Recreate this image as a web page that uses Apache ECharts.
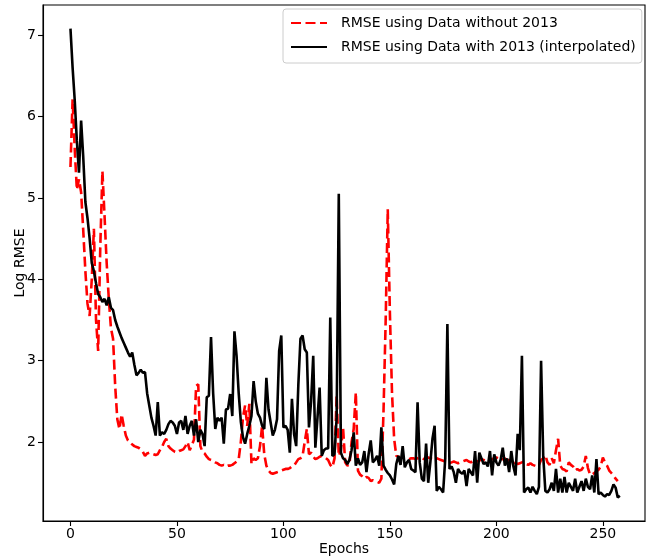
<!DOCTYPE html>
<html>
<head>
<meta charset="utf-8">
<script src="https://cdn.jsdelivr.net/npm/echarts@6/dist/echarts.min.js"></script>
<style>
  html, body { margin: 0; padding: 0; background: #fff; }
  #chart { width: 647px; height: 558px; }
</style>
</head>
<body>
<div id="chart"></div>
<script>
// Log RMSE per epoch (index = epoch)
const rmseWithout2013 = [
  5.38, 6.21, 5.6, 5.1, 5.23, 5.07, 4.6, 4.1, 3.7, 3.55,
  4.0, 4.62, 3.5, 3.12, 4.4, 5.33, 4.78, 4.2, 3.76, 3.4,
  3.27, 2.69, 2.28, 2.16, 2.34, 2.2, 2.08, 2.02, 2.0, 1.97,
  1.95, 1.94, 1.93, 1.91, 1.88, 1.83, 1.86, 1.87, 1.86, 1.85,
  1.84, 1.85, 1.9, 1.94, 2.0, 2.04, 1.95, 1.92, 1.9, 1.88,
  1.87, 1.89, 1.9, 1.91, 1.95, 2.0, 1.9, 1.96, 2.03, 2.69,
  2.71, 1.95, 1.88, 1.86, 1.82, 1.79, 1.78, 1.77, 1.75, 1.74,
  1.72, 1.71, 1.72, 1.7, 1.71, 1.71, 1.72, 1.74, 1.76, 1.79,
  2.0, 2.3, 2.45, 2.2, 2.47, 1.73, 1.8, 1.78, 1.8, 1.95,
  2.2, 1.85, 1.71, 1.65, 1.62, 1.61, 1.62, 1.63, 1.64, 1.65,
  1.66, 1.67, 1.67, 1.68, 1.7, 1.71, 1.75, 1.79, 1.8, 1.83,
  2.0, 2.16, 1.85, 1.87, 1.82, 1.79, 1.8, 1.82, 1.83, 1.82,
  1.8, 1.78, 1.72, 1.69, 1.8, 2.57, 1.83, 1.9, 2.18, 1.75,
  1.71, 1.72, 2.0, 2.16, 2.61, 1.65, 1.6, 1.58, 1.55, 1.57,
  1.56, 1.52, 1.53, 1.52, 1.51, 1.5, 1.55, 2.37, 3.47, 4.86,
  3.59, 2.6, 2.04, 1.83, 1.82, 1.8, 1.81, 1.8, 1.79, 1.79,
  1.8, 1.8, 1.79, 1.8, 1.81, 1.8, 1.79, 1.8, 1.81, 1.8,
  1.79, 1.8, 1.8, 1.79, 1.78, 1.77, 1.76, 1.75, 1.74, 1.75,
  1.76, 1.75, 1.74, 1.75, 1.76, 1.77, 1.78, 1.76, 1.75, 1.77,
  1.78, 1.76, 1.77, 1.79, 1.78, 1.77, 1.78, 1.77, 1.79, 1.8,
  1.81, 1.8, 1.78, 1.79, 1.8, 1.77, 1.78, 1.76, 1.75, 1.74,
  1.73, 1.74, 1.75, 1.76, 1.73, 1.72, 1.74, 1.72, 1.71, 1.7,
  1.72, 1.78, 1.8, 1.84, 1.75, 1.72, 1.8, 1.74, 1.9, 2.04,
  1.71, 1.67, 1.66, 1.64, 1.75, 1.72, 1.7, 1.65, 1.67, 1.65,
  1.66, 1.7, 1.83, 1.68, 1.6, 1.6, 1.62, 1.64, 1.66, 1.7,
  1.81, 1.75, 1.71, 1.65, 1.62, 1.59, 1.55, 1.52
];

const rmseWith2013 = [
  7.08, 6.6, 6.2, 5.7, 5.31, 5.95, 5.5, 4.95, 4.75, 4.5,
  4.2, 4.1, 3.95, 3.82, 3.78, 3.72, 3.76, 3.68, 3.78, 3.65,
  3.62, 3.5, 3.42, 3.35, 3.28, 3.22, 3.16, 3.1, 3.05, 3.1,
  2.95, 2.82, 2.85, 2.89, 2.85, 2.86, 2.6, 2.45, 2.3, 2.2,
  2.08, 2.49, 2.08, 2.12, 2.1, 2.15, 2.22, 2.26, 2.24, 2.2,
  2.1, 2.24, 2.26, 2.15, 2.32, 2.1, 2.2, 2.26, 2.08, 2.28,
  2.0, 2.15, 2.1, 1.95, 2.55, 2.57, 3.29, 2.6, 2.16, 2.3,
  2.26, 2.3, 1.98, 2.4, 2.41, 2.59, 2.32, 3.36, 3.06, 2.6,
  2.25, 2.06, 1.98, 2.1, 2.2, 2.32, 2.75, 2.5, 2.35, 2.3,
  2.2, 2.16, 2.79, 2.4, 2.24, 2.08, 2.15, 2.28, 3.12, 3.31,
  2.18, 2.2, 2.15, 1.87, 2.53, 2.1, 1.95, 2.7, 3.27, 3.31,
  3.14, 3.1, 2.18, 2.5, 3.06, 1.93, 2.3, 2.67, 1.83, 1.9,
  1.92, 1.92, 3.53, 1.83, 1.85, 2.3, 5.05, 1.87, 1.8, 1.78,
  1.73, 1.78, 1.9, 2.12, 1.71, 1.8, 1.72, 1.75, 1.89, 1.63,
  1.85, 2.02, 1.75, 1.78, 1.83, 1.71, 2.18, 1.71, 1.66, 1.62,
  1.59, 1.54, 1.48, 1.73, 1.83, 1.72, 1.95, 1.69, 1.75, 1.78,
  1.67, 1.65, 1.63, 2.49, 1.75, 1.55, 1.52, 1.98, 1.5, 1.75,
  2.04, 2.2, 1.4, 1.45, 1.42, 1.38, 1.8, 3.45, 1.67, 1.7,
  1.63, 1.5, 1.67, 1.63, 1.61, 1.65, 1.46, 1.67, 1.63, 1.59,
  1.89, 1.5, 1.87, 1.8, 1.73, 1.75, 1.7, 1.89, 1.59, 1.85,
  1.75, 1.71, 1.78, 1.93, 1.71, 1.8, 1.63, 1.89, 1.7, 1.59,
  2.1, 1.9, 3.06, 1.38, 1.42, 1.44, 1.38, 1.45, 1.4, 1.36,
  1.45, 3.0, 1.83, 1.4, 1.38, 1.42, 1.5, 1.4, 1.67, 1.38,
  1.55, 1.38, 1.57, 1.38, 1.5, 1.45, 1.4, 1.55, 1.38, 1.45,
  1.52, 1.4, 1.55, 1.45, 1.42, 1.59, 1.38, 1.79, 1.36, 1.38,
  1.35, 1.33, 1.36, 1.35, 1.4, 1.48, 1.44, 1.32, 1.34
];

const xTickValues = [0, 50, 100, 150, 200, 250];
const yTickValues = [2, 3, 4, 5, 6, 7];
const seriesNames = ['RMSE using Data without 2013', 'RMSE using Data with 2013 (interpolated)'];

const FONT = 'DejaVu Sans';
const chart = echarts.init(document.getElementById('chart'), null, { renderer: 'canvas' });

const toPairs = arr => arr.map((v, i) => [i, v]);

chart.setOption({
  animation: false,
  backgroundColor: '#fff',
  textStyle: { fontFamily: FONT },
  grid: {
    left: 43, right: 2, top: 5, bottom: 37,
    outerBoundsMode: 'none',
    containLabel: false,
    show: true, borderColor: '#000', borderWidth: 1.1, backgroundColor: 'transparent'
  },
  legend: {
    orient: 'vertical',
    left: 283, top: 9,
    padding: [7, 6, 9, 7],
    itemWidth: 36, itemHeight: 14, itemGap: 10,
    borderColor: '#cccccc', borderWidth: 1, borderRadius: 3,
    backgroundColor: 'rgba(255,255,255,0.8)',
    itemStyle: { opacity: 0 },
    textStyle: { fontFamily: FONT, fontSize: 14, color: '#000', padding: [0, 0, 0, 9] },
    data: seriesNames
  },
  xAxis: {
    type: 'value',
    min: -12.9, max: 269.8,
    name: 'Epochs', nameLocation: 'middle', nameGap: 21, nameMoveOverlap: false,
    nameTextStyle: { fontFamily: FONT, fontSize: 14, color: '#000' },
    splitLine: { show: false },
    axisLine: { show: true, onZero: false, lineStyle: { color: '#000', width: 1.1 } },
    axisTick: { show: true, length: 5, lineStyle: { color: '#000', width: 1.1 }, customValues: xTickValues },
    axisLabel: { fontFamily: FONT, fontSize: 14, color: '#000', margin: 6, customValues: xTickValues }
  },
  yAxis: {
    type: 'value',
    min: 1.03, max: 7.37,
    name: 'Log RMSE', nameLocation: 'middle', nameGap: 16, nameRotate: 90, nameMoveOverlap: false,
    nameTextStyle: { fontFamily: FONT, fontSize: 14, color: '#000' },
    splitLine: { show: false },
    axisLine: { show: true, onZero: false, lineStyle: { color: '#000', width: 1.1 } },
    axisTick: { show: true, length: 5, lineStyle: { color: '#000', width: 1.1 }, customValues: yTickValues },
    axisLabel: { fontFamily: FONT, fontSize: 14, color: '#000', margin: 7, customValues: yTickValues }
  },
  series: [
    {
      name: seriesNames[0],
      type: 'line',
      data: toPairs(rmseWithout2013),
      symbol: 'none', showSymbol: false,
      lineStyle: { color: '#ff0000', width: 2.6, type: [10, 4.5] },
      itemStyle: { color: '#ff0000' },
      z: 2
    },
    {
      name: seriesNames[1],
      type: 'line',
      data: toPairs(rmseWith2013),
      symbol: 'none', showSymbol: false,
      lineStyle: { color: '#000000', width: 2.6 },
      itemStyle: { color: '#000000' },
      z: 3
    }
  ]
});
</script>
</body>
</html>
